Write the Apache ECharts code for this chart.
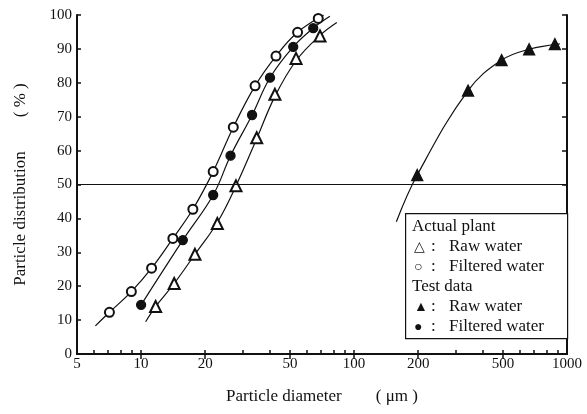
<!DOCTYPE html>
<html>
<head>
    <meta charset="utf-8">
    <title>Particle distribution</title>
    <style type="text/css">
        body{ margin:0; background:#fff; }
        #main{ width:587px; height:414px; }
    </style>
    <script src="https://cdn.jsdelivr.net/npm/echarts@6/dist/echarts.min.js"></script>
</head>
<body>
<div id="main"></div>
<script type="text/javascript">
// tick values
var xTickLabels = [5, 10, 20, 50, 100, 200, 500, 1000];
var xMinorTicks = [5, 6, 7, 8, 9, 10, 20, 30, 40, 50, 60, 70, 80, 90, 100, 200, 300, 400, 500, 600, 700, 800, 900, 1000];
var xTopTicks = [10, 20, 50, 100, 200, 500];

// measured points [diameter um, %]
var plantRaw = [[11.7, 14.0], [14.3, 20.8], [17.9, 29.4], [22.8, 38.5], [27.9, 49.6], [34.9, 63.8], [42.5, 76.6], [53.4, 87.2], [69.2, 93.8]];
var plantFiltered = [[7.1, 12.3], [9.0, 18.4], [11.2, 25.3], [14.1, 34.1], [17.5, 42.7], [21.8, 53.8], [27.1, 66.9], [34.3, 79.1], [43.0, 87.9], [54.3, 94.9], [67.9, 99.0]];
var testRaw = [[198, 52.8], [343, 77.7], [493, 86.7], [664, 89.9], [877, 91.4]];
var testFiltered = [[10.0, 14.5], [15.7, 33.6], [21.8, 46.9], [26.3, 58.5], [33.2, 70.5], [40.3, 81.5], [51.8, 90.6], [64.3, 96.1]];

// fitted curves
var curvePlantRaw = [[10.5, 9.5], [11.7, 14.0], [14.3, 20.8], [17.9, 29.4], [22.8, 38.8], [27.9, 49.6], [34.9, 63.5], [42.5, 76.0], [53.4, 86.5], [69.2, 94.0], [83, 97.8]];
var curvePlantFiltered = [[6.1, 8.3], [7.1, 12.3], [9.0, 18.4], [11.2, 25.3], [14.1, 34.1], [17.5, 42.7], [21.8, 53.8], [27.1, 66.9], [34.3, 79.1], [43.0, 87.9], [54.3, 94.9], [72, 100]];
var curveTestRaw = [[158, 39], [198, 52.8], [343, 77.7], [493, 86.7], [664, 89.9], [925, 91.5]];
var curveTestFiltered = [[10.0, 14.5], [15.7, 33.6], [21.8, 46.9], [26.3, 58.5], [33.2, 70.5], [40.3, 81.5], [51.8, 90.6], [64.3, 96.1], [77, 99.6]];

var serif = 'Liberation Serif';

var myChart = echarts.init(document.getElementById('main'));

function curve(data) {
    return {
        type: 'line', data: data, smooth: 0.4, showSymbol: false, symbol: 'none',
        lineStyle: { color: '#111', width: 1.2 }, z: 2, silent: true
    };
}
function pts(data, symbol, size) {
    return {
        type: 'scatter', data: data, symbol: symbol, symbolSize: size,
        itemStyle: { color: '#111', borderColor: '#111', borderWidth: 1.3, opacity: 1 }, z: 3
    };
}

// legend box (symbol, colon, text)
var lx = 405, ly = 213;
var legendHeads = [{ t: 'Actual plant', y: 227 }, { t: 'Test data', y: 287 }];
var legendRows = [
    { s: '\u25b3', t: 'Raw water', y: 247 },
    { s: '\u25cb', t: 'Filtered water', y: 267 },
    { s: '\u25b2', t: 'Raw water', y: 307 },
    { s: '\u25cf', t: 'Filtered water', y: 327 }
];

function txt(t, x, y, size) {
    return {
        type: 'text', x: x, y: y, z: 11,
        style: { text: t, fontFamily: serif, fontSize: size, fill: '#111', verticalAlign: 'middle' }
    };
}

var graphics = [{
    type: 'rect', left: lx, top: ly, z: 10,
    shape: { width: 162, height: 125 },
    style: { fill: '#fff', stroke: '#111', lineWidth: 1.2 }
}];
legendHeads.forEach(function (h) { graphics.push(txt(h.t, 412, h.y, 17)); });
legendRows.forEach(function (r) {
    graphics.push(txt(r.s, 414, r.y, 14));
    graphics.push(txt(':', 431, r.y, 17));
    graphics.push(txt(r.t, 449, r.y, 17));
});

var option = {
    animation: false,
    textStyle: { fontFamily: serif },
    grid: { left: 77, right: 20, top: 15, bottom: 60 },
    xAxis: [{
        type: 'log', logBase: 10, min: 5, max: 1000,
        name: 'Particle diameter\u3000\u3000( \u03bcm )',
        nameLocation: 'middle', nameGap: 34,
        nameTextStyle: { fontFamily: serif, fontSize: 17, color: '#111' },
        axisLine: { lineStyle: { color: '#111', width: 2 } },
        axisTick: { inside: true, length: 4, customValues: xMinorTicks, lineStyle: { color: '#111', width: 1.5 } },
        axisLabel: {
            customValues: xTickLabels, fontSize: 15, color: '#111', margin: 3, fontFamily: serif,
            formatter: function (v) { return String(Math.round(v)); }
        },
        splitLine: { show: false },
        minorTick: { show: false }
    }, {
        type: 'log', logBase: 10, min: 5, max: 1000, position: 'top',
        axisLine: { lineStyle: { color: '#111', width: 2 } },
        axisTick: { inside: true, length: 5, customValues: xTopTicks, lineStyle: { color: '#111', width: 1.5 } },
        axisLabel: { show: false },
        splitLine: { show: false }
    }],
    yAxis: [{
        type: 'value', min: 0, max: 100, interval: 10,
        name: 'Particle distribution\u3000\u3000( % )',
        nameLocation: 'middle', nameGap: 48,
        nameTextStyle: { fontFamily: serif, fontSize: 17, color: '#111' },
        axisLine: { show: true, lineStyle: { color: '#111', width: 2 } },
        axisTick: { show: true, inside: true, length: 4, lineStyle: { color: '#111', width: 1.5 } },
        axisLabel: { fontSize: 15, color: '#111', margin: 5, fontFamily: serif },
        splitLine: { show: false }
    }, {
        type: 'value', min: 0, max: 100, interval: 10, position: 'right',
        axisLine: { show: true, lineStyle: { color: '#111', width: 2 } },
        axisTick: { show: true, inside: true, length: 5, lineStyle: { color: '#111', width: 1.5 } },
        axisLabel: { show: false },
        splitLine: { show: false }
    }],
    series: [
        Object.assign(curve(curvePlantRaw), {
            markLine: {
                silent: true, symbol: 'none', label: { show: false },
                lineStyle: { color: '#111', type: 'solid', width: 1.2 },
                data: [{ yAxis: 50 }]
            }
        }),
        curve(curvePlantFiltered),
        curve(curveTestRaw),
        curve(curveTestFiltered),
        pts(plantRaw, 'emptyTriangle', 11),
        pts(plantFiltered, 'emptyCircle', 9),
        pts(testRaw, 'triangle', 11),
        pts(testFiltered, 'circle', 9)
    ],
    graphic: graphics
};

myChart.setOption(option);
</script>
</body>
</html>
